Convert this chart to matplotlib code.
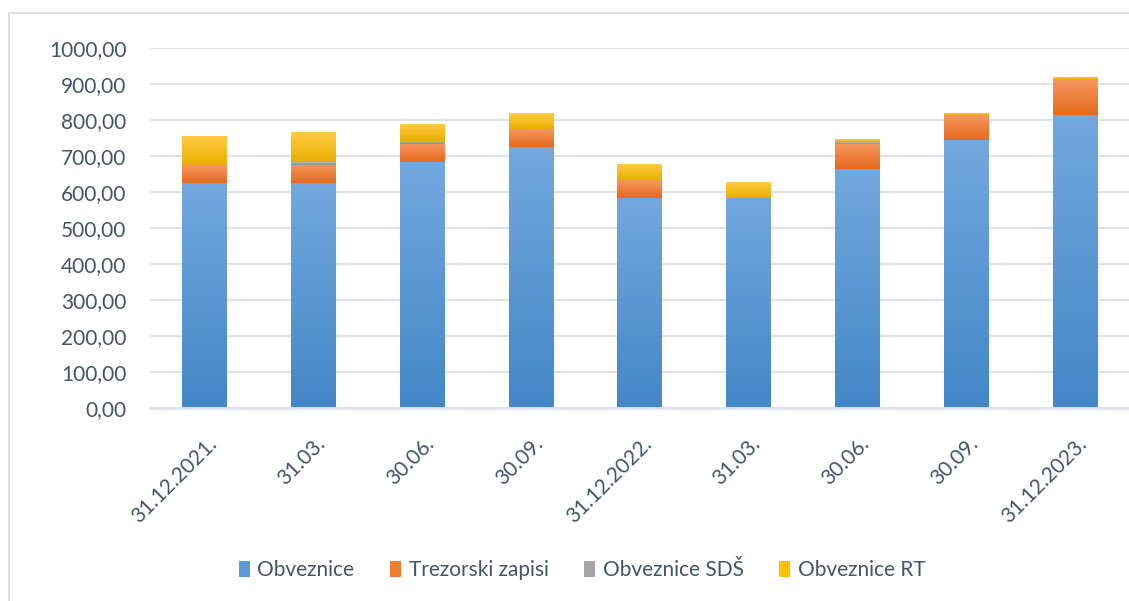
import numpy as np
import matplotlib
matplotlib.use("Agg")
import matplotlib.pyplot as plt
import matplotlib.transforms as mtransforms
from matplotlib.patches import Rectangle, Patch
from matplotlib.colors import LinearSegmentedColormap
from matplotlib.ticker import FuncFormatter

# podaci
datumi = ["31.12.2021.", "31.03.", "30.06.", "30.09.", "31.12.2022.",
          "31.03.", "30.06.", "30.09.", "31.12.2023."]
obveznice = [625, 625, 683, 725, 584, 584, 664, 745, 814]
trezorski = [50, 51, 51, 50, 50, 0, 70, 69, 100]
obveznice_sds = [0, 7, 7, 0, 0, 0, 4, 0, 0]
obveznice_rt = [80, 81, 45, 42, 44, 44, 6, 5, 5]

serije = [
    ("Obveznice", obveznice, ("#72A8DE", "#4487C7"), "#5B9BD5"),
    ("Trezorski zapisi", trezorski, ("#F5975F", "#E66A1E"), "#ED7D31"),
    ("Obveznice SDŠ", obveznice_sds, ("#B8B8B8", "#8F8F8F"), "#A5A5A5"),
    ("Obveznice RT", obveznice_rt, ("#FFCB45", "#E8AE00"), "#FFC000"),
]

plt.rcParams["font.family"] = ["Lato", "DejaVu Sans"]
txt_col = "#44546A"
grid_col = "#DDE2E8"

fig = plt.figure(figsize=(11.29, 6.01), dpi=100)
ax = fig.add_axes([150 / 1129, (601 - 408) / 601, 979 / 1129, 360 / 601])

x = np.arange(len(datumi))
dno = np.zeros(len(datumi))
for ime, vrijednosti, (c_top, c_bot), boja in serije:
    v = np.array(vrijednosti, dtype=float)
    bars = ax.bar(x, v, width=0.405, bottom=dno, color="none", zorder=2)
    cmap = LinearSegmentedColormap.from_list(ime, [c_bot, c_top])
    for b in bars:
        if b.get_height() <= 0:
            continue
        x0, y0 = b.get_x(), b.get_y()
        grad = np.linspace(0, 1, 64).reshape(-1, 1)
        ax.imshow(grad, cmap=cmap, origin="lower", aspect="auto",
                  extent=(x0, x0 + b.get_width(), y0, y0 + b.get_height()),
                  zorder=2, interpolation="bilinear")
    dno += v

ax.set_xlim(-0.5, len(datumi) - 0.5)
ax.set_ylim(0, 1000)
ax.set_yticks(np.arange(0, 1001, 100))
ax.yaxis.set_major_formatter(FuncFormatter(lambda v, p: f"{v:.2f}".replace(".", ",")))
ax.grid(axis="y", color=grid_col, lw=1.5, zorder=0)
ax.set_axisbelow(True)
for s in ["top", "right", "left"]:
    ax.spines[s].set_visible(False)
ax.spines["bottom"].set_color(grid_col)
ax.spines["bottom"].set_linewidth(2)
ax.tick_params(axis="y", length=0, pad=17, labelsize=15, labelcolor=txt_col)
ax.tick_params(axis="x", length=0, labelsize=15, labelcolor=txt_col)

ax.set_xticks(x)
ax.set_xticklabels(datumi, rotation=45, ha="right", va="center", rotation_mode="anchor")
off = mtransforms.ScaledTranslation(9 / 100, -28 / 100, fig.dpi_scale_trans)
for lbl in ax.get_xticklabels():
    lbl.set_transform(lbl.get_transform() + off)

handles = [Patch(facecolor=s[3], edgecolor="none") for s in serije]
fig.legend(handles, [s[0] for s in serije], loc="center", ncol=4,
           bbox_to_anchor=(582 / 1129, 1 - 570 / 601), frameon=False,
           fontsize=15, labelcolor=txt_col, handlelength=0.55, handleheight=0.8,
           handletextpad=0.35, columnspacing=1.7)

# okvir grafikona
fig.patches.append(Rectangle((9 / 1129, -0.01), 1.0, 1 - 13 / 601 + 0.01,
                             transform=fig.transFigure, fill=False,
                             edgecolor="#D9DEE4", lw=1.5, zorder=0))

fig.savefig("out.png", dpi=100)
